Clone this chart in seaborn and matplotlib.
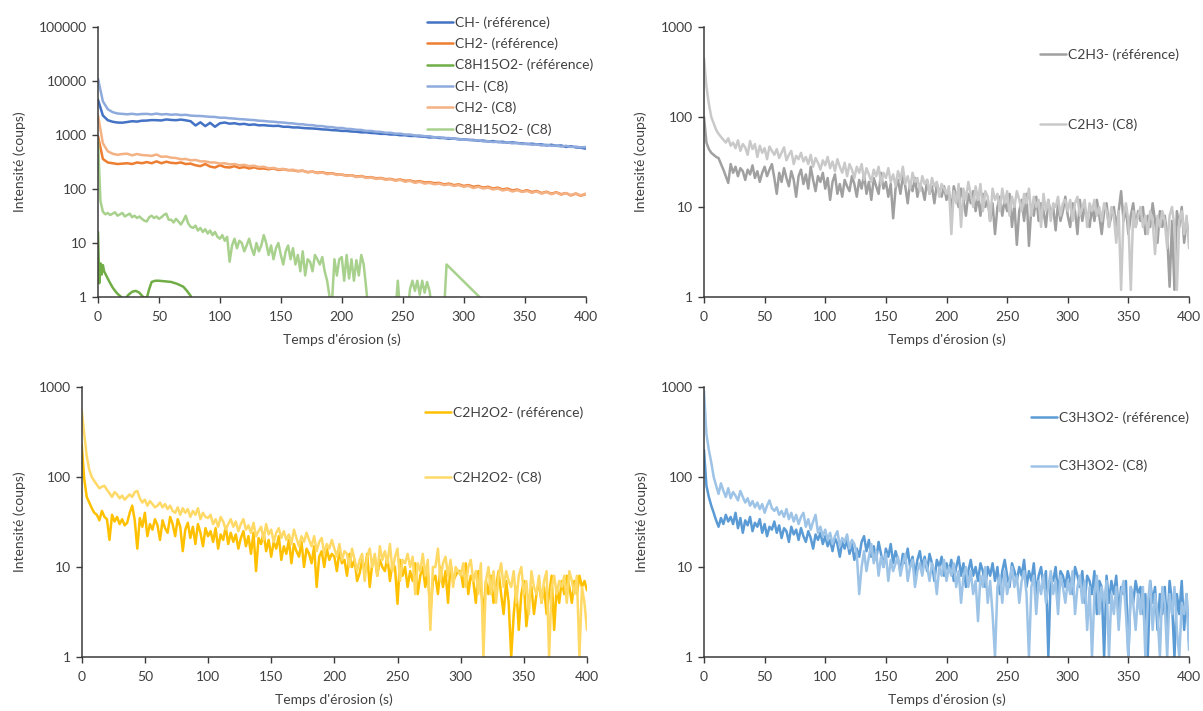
import numpy as np
import matplotlib
matplotlib.use("Agg")
import matplotlib.pyplot as plt
import seaborn as sns
from matplotlib.ticker import FixedLocator, NullLocator, FixedFormatter

sns.set_theme(style="ticks")
plt.rcParams['font.family'] = ['Lato', 'DejaVu Sans']

# ---------------- data ----------------
# Panel 1 (4 s grid, 0..400 s)
ch_ref = [4500, 2300, 1880, 1760, 1700, 1690, 1740, 1800, 1770, 1840,
          1850, 1890, 1880, 1860, 1940, 1900, 1880, 1930, 1870, 1800,
          1500, 1720, 1460, 1680, 1420, 1650, 1700, 1620, 1650, 1580,
          1610, 1540, 1570, 1510, 1520, 1490, 1470, 1480, 1420, 1420,
          1380, 1380, 1350, 1330, 1320, 1300, 1270, 1260, 1230, 1220,
          1190, 1190, 1160, 1150, 1120, 1120, 1090, 1080, 1050, 1050,
          1020, 1020, 990, 990, 960, 960, 940, 930, 900, 910,
          880, 880, 850, 860, 830, 830, 810, 810, 780, 790,
          760, 770, 740, 750, 720, 730, 710, 700, 680, 690,
          670, 670, 640, 660, 630, 640, 600, 620, 590, 580,
          560]
ch_c8 = [11000, 4200, 3000, 2650, 2500, 2460, 2420, 2470, 2400, 2450,
         2460, 2410, 2490, 2400, 2440, 2370, 2410, 2340, 2370, 2290,
         2260, 2250, 2210, 2170, 2160, 2090, 2090, 2040, 2010, 1970,
         1950, 1910, 1890, 1840, 1820, 1780, 1760, 1720, 1700, 1660,
         1640, 1590, 1580, 1530, 1520, 1470, 1460, 1410, 1400, 1350,
         1350, 1300, 1290, 1250, 1240, 1190, 1190, 1150, 1140, 1100,
         1100, 1060, 1060, 1020, 1020, 980, 980, 950, 950, 910,
         910, 880, 880, 850, 850, 820, 820, 790, 800, 760,
         770, 740, 750, 720, 730, 700, 710, 680, 690, 660,
         670, 640, 660, 630, 640, 610, 630, 600, 610, 590,
         600]
ch2_ref = [950, 360, 310, 300, 290, 295, 300, 290, 310, 300,
           315, 300, 325, 300, 320, 305, 300, 310, 290, 295,
           275, 265, 290, 260, 250, 275, 255, 250, 265, 245,
           255, 240, 252, 238, 240, 232, 240, 225, 232, 224,
           222, 214, 218, 205, 210, 200, 204, 194, 196, 186,
           184, 178, 180, 170, 174, 164, 166, 158, 160, 152,
           154, 146, 150, 142, 144, 136, 140, 132, 134, 128,
           130, 122, 126, 118, 122, 114, 118, 110, 114, 106,
           110, 102, 106, 98, 102, 94, 98, 90, 95, 88,
           92, 84, 89, 82, 87, 80, 84, 76, 82, 75,
           80]
ch2_c8 = [2300, 700, 500, 450, 430, 445, 450, 420, 445, 425,
          420, 410, 435, 395, 400, 380, 375, 355, 360, 340,
          345, 325, 325, 310, 310, 295, 300, 285, 290, 275,
          280, 265, 270, 255, 258, 242, 246, 232, 236, 222,
          228, 214, 218, 204, 210, 196, 202, 188, 194, 182,
          186, 174, 180, 166, 172, 160, 164, 154, 158, 148,
          152, 142, 148, 136, 142, 130, 136, 126, 130, 122,
          126, 118, 122, 114, 118, 110, 114, 104, 110, 102,
          106, 98, 102, 94, 98, 90, 95, 88, 92, 85,
          90, 82, 88, 80, 86, 78, 84, 77, 83, 76,
          82]
c8h15o2_ref_t = [0, 1, 2, 3, 4, 5, 6, 8, 10, 12, 14, 16, 18, 20, 22, 25, 28, 31, 34, 37,
                 40, 42, 44, 47, 50, 55, 60, 65, 70, 73, 76, 78]
c8h15o2_ref = [16, 1.8, 4.2, 2.6, 3.9, 3.0, 2.7, 2.2, 1.8, 1.5, 1.3, 1.15, 1.05, 0.95, 0.9, 1.1,
               1.25, 1.3, 1.2, 1.0, 0.95, 1.4, 1.9, 2.0, 2.0, 1.95, 1.9, 1.75, 1.55, 1.3, 1.05, 0.8]
c8h15o2_c8_t = [0, 2, 4, 6, 8, 10, 12, 14, 16, 18, 20, 22, 24, 26, 28, 30, 32, 34, 36, 38,
                40, 42, 44, 46, 48, 50, 52, 54, 56, 58, 60, 62, 64, 66, 68, 70, 72, 74, 76, 78,
                80, 82, 84, 86, 88, 90, 92, 94, 96, 98, 100, 102, 104, 106, 108, 110, 112, 114, 116, 118,
                120, 122, 124, 126, 128, 130, 132, 134, 136, 138, 140, 142, 144, 146, 148, 150, 152, 154, 156, 158,
                160, 162, 164, 166, 168, 170, 172, 174, 176, 178, 180, 182, 184, 186, 188, 190, 192, 194, 196, 198,
                200, 202, 204, 206, 208, 210, 212, 214, 216, 218, 220, 222,
                244, 246, 248, 254, 256, 258, 260, 262, 264, 266, 268, 270, 272, 274, 284, 286, 314]
c8h15o2_c8 = [800, 60, 38, 34, 36, 33, 35, 37, 32, 34,
              36, 31, 33, 35, 30, 32, 29, 31, 28, 26,
              25, 30, 32, 29, 31, 28, 30, 33, 35, 27,
              27, 24, 28, 25, 22, 26, 32, 23, 20, 19,
              21, 17, 19, 16, 18, 15, 17, 14, 16, 13,
              12, 14, 11, 13, 4.5, 9, 12, 8, 11, 10,
              7, 9, 12, 8, 6, 10, 7, 9, 14, 10,
              6, 9, 5, 8, 10, 6, 4, 7, 9, 5,
              8, 4, 6, 3, 7, 2.5, 5, 4.5, 3, 6,
              5, 4, 5.5, 3, 2, 1.0, 0.8, 5, 2.5, 5,
              5.5, 2, 6, 2.2, 5, 2, 4.8, 2.5, 6, 4, 1.5, 0.5,
              0.5, 2.0, 0.5, 0.5, 1.4, 2.0, 1.3, 2.0, 1.1, 2.0, 1.2, 1.9, 1.3, 0.6, 0.6, 4.0, 0.95]

# Panels 2-4 (2 s grid, 0..400 s)
c2h3_ref = [100, 52, 44, 40, 38, 36, 35, 30, 26, 22,
            18.5, 30, 24, 28, 22, 27, 25, 20, 26, 23,
            29, 21, 25, 19, 24, 28, 22, 26, 30, 21,
            14, 24, 19, 27, 21, 17, 25, 20, 13, 22,
            26, 18, 23, 16, 28, 20, 15, 22, 19, 24,
            16, 21, 12, 19, 23, 14, 18, 13, 20, 17,
            15, 22, 18, 13, 20, 16, 23, 14, 19, 12,
            21, 17, 14, 24, 16, 19, 13, 18, 7.5, 16,
            20, 14, 22, 17, 11, 19, 15, 21, 13, 18,
            16, 12, 20, 14, 17, 11, 18, 15, 13, 17,
            12, 15, 9, 17, 13, 10, 16, 12, 8, 14,
            11, 15, 9, 13, 8, 14, 10, 12, 7, 11,
            5, 10, 13, 8, 12, 9, 14, 6, 11, 3.8,
            9, 12, 7, 14, 3.7, 10, 8, 13, 7, 11,
            9, 6, 12, 8, 10, 5.5, 11, 7, 9, 13,
            8, 6, 11, 9, 5, 12, 7, 10, 8, 6,
            10, 7, 12, 8, 5, 9, 11, 6, 8, 10,
            6, 9, 15, 7, 10, 5, 8, 11, 6, 9,
            7, 10, 5, 8, 6, 11, 7, 4, 9, 6,
            8, 5, 1.3, 7, 1.2, 9, 6, 10, 4, 7,
            4.5]
c2h3_c8 = [450, 220, 140, 100, 85, 72, 65, 60, 56, 52,
           58, 48, 52, 45, 55, 42, 50, 46, 38, 54,
           44, 50, 36, 48, 40, 45, 34, 47, 42, 38,
           44, 35, 40, 46, 33, 38, 42, 30, 37, 34,
           40, 32, 36, 30, 38, 28, 35, 31, 26, 33,
           29, 36, 27, 32, 25, 34, 28, 24, 31, 22,
           30, 26, 21, 28, 24, 30, 20, 27, 23, 19,
           26, 22, 28, 18, 24, 21, 27, 19, 23, 17,
           25, 20, 28, 18, 22, 16, 24, 19, 21, 15,
           22, 18, 20, 14, 21, 17, 19, 13, 18, 16,
           14, 17, 5, 15, 11, 18, 6, 16, 12, 19,
           14, 10, 17, 12, 18, 9, 15, 13, 7, 16,
           12, 14, 9, 16, 11, 15, 8, 13, 10, 15,
           12, 9, 14, 11, 16, 8, 13, 10, 12, 6,
           14, 9, 12, 7, 11, 10, 13, 8, 11, 12,
           9, 12, 7, 11, 13, 8, 10, 12, 6, 11,
           9, 12, 8, 10, 7, 11, 9, 6, 10, 8,
           4, 9, 1.2, 8, 11, 7, 1.2, 9, 6, 8,
           10, 6, 8, 5, 9, 7, 3, 8, 6, 9,
           7, 3.5, 8, 10, 6, 1.2, 7, 9, 5, 8,
           3.5]
c2h2o2_ref = [230, 95, 60, 52, 45, 40, 38, 33, 42, 36,
              34, 20, 38, 32, 36, 30, 34, 29, 31, 40,
              48, 33, 16, 35, 28, 40, 22, 30, 26, 34,
              29, 20, 33, 27, 24, 36, 30, 22, 34, 28,
              15, 26, 31, 21, 28, 18, 30, 24, 17, 27,
              22, 25, 19, 27, 16, 23, 20, 28, 18, 24,
              19, 23, 16, 21, 25, 17, 22, 14, 24, 9,
              21, 18, 24, 15, 20, 13, 19, 16, 22, 12,
              17, 14, 20, 11, 18, 15, 13, 19, 10, 16,
              14, 11, 17, 6, 13, 15, 10, 16, 12, 14,
              13, 9, 15, 11, 12, 8, 14, 10, 12, 7,
              8.5, 12, 9, 14, 6, 11, 13, 8, 12, 10,
              9, 13, 7, 11, 10, 3.9, 12, 8, 10, 6,
              9, 7, 11, 5, 8, 10, 6, 9, 3.0, 7,
              8, 5, 10, 6, 9, 4, 11, 7, 8, 9,
              9, 6, 11, 5, 8, 7, 4, 9, 6, 3,
              7, 5, 8, 4, 6, 9, 5, 3, 7, 4,
              1.0, 3, 6, 2, 5, 7, 2.2, 4, 6, 3,
              5, 7, 4, 6, 3, 5, 8, 2, 6, 4,
              7, 5, 8, 6, 4, 7, 5, 8, 6, 7,
              5.5]
c2h2o2_c8 = [550, 300, 170, 120, 100, 90, 82, 75, 78, 80,
             72, 66, 60, 68, 64, 58, 62, 56, 60, 64,
             60, 68, 70, 58, 52, 56, 48, 54, 50, 46,
             48, 52, 46, 50, 44, 48, 42, 40, 46, 38,
             45, 40, 44, 36, 42, 38, 45, 34, 40, 36,
             35, 38, 30, 34, 28, 36, 32, 26, 30, 34,
             28, 32, 25, 30, 34, 26, 29, 24, 31, 22,
             25, 28, 20, 30, 23, 26, 19, 24, 27, 21,
             25, 20, 23, 18, 26, 21, 17, 22, 19, 24,
             20, 17, 22, 15, 19, 21, 14, 18, 16, 20,
             16, 13, 18, 12, 15, 14, 10, 16, 12, 9,
             12, 14, 7, 13, 16, 10, 14, 8, 17, 12,
             15, 11, 18, 9, 13, 16, 7, 12, 11, 14,
             10, 13, 5, 11, 9, 14, 8, 12, 2, 10,
             10, 16, 7, 11, 13, 8, 12, 6, 10, 9,
             8, 11, 6, 10, 12, 7, 9, 5, 11, 1.0,
             7, 10, 5, 9, 4, 8, 11, 6, 9, 7,
             6, 9, 4, 8, 10, 5, 7, 3, 9, 6,
             5, 8, 4, 7, 9, 1.0, 6, 8, 5, 7,
             6, 8, 4, 9, 7, 5, 8, 1.0, 6, 4,
             2]
c3h3o2_ref = [200, 80, 60, 48, 40, 33, 28, 35, 30, 38,
              32, 36, 30, 40, 27, 35, 24, 33, 29, 36,
              25, 31, 28, 34, 24, 30, 22, 28, 26, 32,
              24, 29, 21, 27, 25, 19, 28, 23, 26, 20,
              27, 22, 19, 25, 21, 16, 23, 20, 24, 18,
              22, 17, 20, 15, 21, 18, 13, 19, 16, 20,
              14, 18, 12, 16, 13, 19, 22, 15, 20, 13,
              17, 12, 19, 14, 10, 16, 13, 18, 11, 15,
              12, 9, 14, 11, 16, 10, 13, 8, 12, 15,
              10, 13, 9, 14, 11, 7, 12, 10, 13, 8,
              11, 9, 12, 7, 10, 13, 8, 11, 6, 9,
              12, 8, 10, 7, 11, 9, 6, 10, 8, 11,
              7, 10, 5, 9, 12, 8, 6, 11, 9, 7,
              10, 8, 12, 6, 9, 7, 11, 5, 8, 10,
              6, 9, 1.0, 8, 7, 10, 5, 9, 8, 6,
              9, 7, 5, 10, 8, 6, 9, 4, 8, 7,
              5, 9, 3, 7, 6, 1.0, 8, 4, 7, 5,
              8, 3, 6, 5, 7, 1.0, 6, 4, 7, 5,
              6, 3, 5, 1.0, 7, 4, 6, 2, 5, 3,
              6, 2, 7, 4, 1.0, 5, 3, 7, 2, 5,
              1.5]
c3h3o2_c8 = [900, 300, 200, 145, 100, 80, 65, 85, 70, 60,
             75, 58, 68, 62, 55, 70, 60, 52, 58, 48,
             54, 46, 52, 44, 50, 40, 48, 55, 45, 42,
             46, 38, 42, 36, 44, 34, 40, 32, 38, 30,
             36, 40, 28, 34, 26, 32, 38, 24, 28, 22,
             26, 20, 24, 18, 22, 25, 17, 21, 19, 23,
             16, 20, 18, 14, 5, 10, 15, 9, 13, 18,
             11, 15, 8, 13, 10, 14, 7, 12, 9, 11,
             13, 8, 11, 14, 7, 10, 12, 6, 9, 11,
             8, 12, 10, 7, 11, 9, 5, 10, 8, 12,
             7, 10, 8, 11, 6, 9, 4, 8, 10, 6,
             9, 5, 7, 2.5, 8, 6, 10, 4, 7, 3,
             1.0, 6, 8, 4, 9, 5, 7, 10, 6, 8,
             4, 7, 9, 5, 1.0, 6, 8, 3, 7, 5,
             8, 4, 6, 9, 5, 7, 3, 8, 6, 4,
             7, 5, 9, 3, 6, 8, 4, 7, 2, 6,
             1.0, 5, 8, 3, 6, 4, 7, 1.0, 5, 3,
             6, 2, 5, 7, 3, 1.0, 6, 4, 2, 5,
             3, 6, 1.0, 4, 7, 2, 5, 3, 1.0, 6,
             4, 1.0, 5, 3, 6, 2, 1.0, 4, 3, 5,
             1.2]

x_ticks = [0, 50, 100, 150, 200, 250, 300, 350, 400]
y_ticks_big = [1, 10, 100, 1000, 10000, 100000]
y_ticks_small = [1, 10, 100, 1000]
x_label = "Temps d'érosion (s)"
y_label = "Intensité (coups)"

# ---------------- figure ----------------
W, H = 1203, 711
fig = plt.figure(figsize=(W / 100, H / 100), dpi=100)
fig.patch.set_facecolor('white')
TXT = '#404040'


def px_axes(x0, x1, ytop, ybot):
    return fig.add_axes([x0 / W, 1 - ybot / H, (x1 - x0) / W, (ybot - ytop) / H])


def draw(ax, t, v, color, label, lw=1.8):
    sns.lineplot(x=np.asarray(t, dtype=float), y=np.asarray(v, dtype=float), ax=ax,
                 color=color, linewidth=lw, label=label, sort=False, estimator=None)


def style(ax, yticks, ylab_x, x0, x1, ytop, ybot):
    ax.set_yscale('log')
    ax.set_xlim(0, 400)
    ax.set_ylim(yticks[0], yticks[-1])
    ax.xaxis.set_major_locator(FixedLocator(x_ticks))
    ax.yaxis.set_major_locator(FixedLocator(yticks))
    ax.yaxis.set_major_formatter(FixedFormatter([str(v) for v in yticks]))
    ax.yaxis.set_minor_locator(NullLocator())
    ax.xaxis.set_minor_locator(NullLocator())
    for s in ['top', 'right']:
        ax.spines[s].set_visible(False)
    for s in ['left', 'bottom']:
        ax.spines[s].set_color('#3a3a3a')
        ax.spines[s].set_linewidth(1.1)
    ax.tick_params(axis='both', which='major', direction='out', length=4, width=1.0,
                   color='#3a3a3a', labelcolor=TXT, labelsize=10)
    ax.tick_params(axis='x', pad=6)
    ax.tick_params(axis='y', pad=4)
    ax.grid(False)
    ax.set_facecolor('white')
    ax.set_xlabel(x_label, fontsize=10, color=TXT)
    ax.set_ylabel(y_label, fontsize=10, color=TXT)
    h = ybot - ytop
    w = x1 - x0
    ax.xaxis.set_label_coords(0.5, -36 / h)
    ax.yaxis.set_label_coords((ylab_x + 7 - x0) / w, 0.5)


def legend(ax, xpx, ypx_first, spacing):
    leg = ax.legend(loc='upper left', bbox_to_anchor=(xpx / W, 1 - (ypx_first - 7) / H),
                    bbox_transform=fig.transFigure, frameon=False, fontsize=10,
                    handlelength=1.9, handletextpad=0.15, labelspacing=spacing,
                    borderpad=0, borderaxespad=0)
    for t in leg.get_texts():
        t.set_color(TXT)


# Panel 1
g1 = (98, 585.5, 27, 297)
ax1 = px_axes(*g1)
t4 = 4 * np.arange(len(ch_ref))
draw(ax1, t4, ch_ref, '#4472C4', 'CH- (référence)')
draw(ax1, t4, ch2_ref, '#ED7D31', 'CH2- (référence)')
draw(ax1, c8h15o2_ref_t, c8h15o2_ref, '#70AD47', 'C8H15O2- (référence)')
draw(ax1, t4, ch_c8, '#8FAADC', 'CH- (C8)')
draw(ax1, t4, ch2_c8, '#F4B183', 'CH2- (C8)')
draw(ax1, c8h15o2_c8_t, c8h15o2_c8, '#A9D18E', 'C8H15O2- (C8)')
style(ax1, y_ticks_big, 18.6, *g1)
legend(ax1, 427, 23, 0.64)

# Panel 2
g2 = (704, 1189, 27, 297)
ax2 = px_axes(*g2)
t2 = 2 * np.arange(len(c2h3_ref))
draw(ax2, t2, c2h3_ref, '#A0A0A0', 'C2H3- (référence)')
draw(ax2, t2, c2h3_c8, '#C9C9C9', 'C2H3- (C8)')
style(ax2, y_ticks_small, 640, *g2)
legend(ax2, 1040, 55, 4.15)

# Panel 3
g3 = (81.7, 587, 387, 657)
ax3 = px_axes(*g3)
draw(ax3, t2, c2h2o2_ref, '#FFC000', 'C2H2O2- (référence)')
draw(ax3, t2, c2h2o2_c8, '#FFD966', 'C2H2O2- (C8)')
style(ax3, y_ticks_small, 19.2, *g3)
legend(ax3, 425, 413, 3.8)

# Panel 4
g4 = (704, 1189, 387, 657)
ax4 = px_axes(*g4)
draw(ax4, t2, c3h3o2_ref, '#5B9BD5', 'C3H3O2- (référence)')
draw(ax4, t2, c3h3o2_c8, '#9DC3E6', 'C3H3O2- (C8)')
style(ax4, y_ticks_small, 640.8, *g4)
legend(ax4, 1031, 418, 2.62)

fig.savefig('out.png', dpi=100, facecolor='white')
